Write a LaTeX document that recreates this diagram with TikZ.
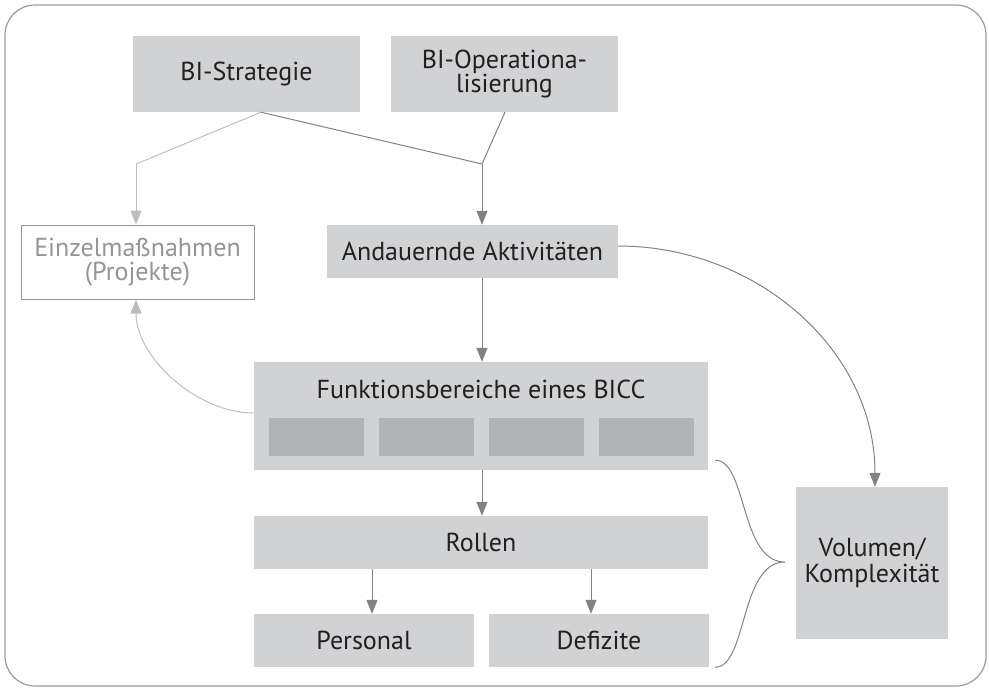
\documentclass[tikz,border=0pt]{standalone}
\usepackage{fontspec}
\setmainfont{PT Sans}
\usetikzlibrary{arrows.meta,calc}
\definecolor{boxfill}{HTML}{D1D2D4}
\definecolor{subfill}{HTML}{B1B3B6}
\definecolor{darkline}{HTML}{808285}
\definecolor{lightline}{HTML}{BCBEC0}
\definecolor{txt}{HTML}{231F20}
\definecolor{lighttxt}{HTML}{939598}
\definecolor{frame}{HTML}{9A9B9D}
\tikzset{
  box/.style={fill=boxfill, draw=none, inner sep=0pt, align=center, text=txt,
    font=\fontsize{26}{24}\selectfont},
  subbox/.style={fill=subfill, draw=none, inner sep=0pt, minimum width=95pt, minimum height=38pt},
  ghostbox/.style={fill=white, draw=lighttxt, line width=1pt, inner sep=0pt, align=center,
    text=lighttxt, font=\fontsize{26}{24}\selectfont},
  darkcon/.style={draw=darkline, line width=1pt},
  lightcon/.style={draw=lightline, line width=1pt},
  darkarrow/.style={darkcon, -{Triangle[width=11pt,length=14pt,fill=darkline]}},
  lightarrow/.style={lightcon, -{Triangle[width=11pt,length=14pt,fill=lightline]}},
  labeltext/.style={text=txt, font=\fontsize{26}{24}\selectfont, inner sep=0pt}
}
\begin{document}
\begin{tikzpicture}[x=1pt,y=-1pt]
\useasboundingbox (0,0) rectangle (989,689);
\draw[frame, line width=1.2pt, rounded corners=30pt] (5,5) rectangle (986,686);

\node[box, minimum width=227pt, minimum height=76pt] (strat) at (246.5,74) {BI-Strategie};
\node[box, minimum width=227pt, minimum height=76pt] (oper) at (504.5,74) {BI-Operationa-\\lisierung};
\node[ghostbox, minimum width=233pt, minimum height=74pt] (einzel) at (137.5,262) {Einzelmaßnahmen\\(Projekte)};
\node[box, minimum width=291pt, minimum height=53pt] (andauernd) at (472.5,251.5) {Andauernde Aktivitäten};
\node[box, minimum width=454pt, minimum height=108pt] (funk) at (481,416) {};
\node[labeltext] (funklabel) at (481,389) {Funktionsbereiche eines BICC};
\node[subbox] (fb1) at (316.5,437) {};
\node[subbox] (fb2) at (426.5,437) {};
\node[subbox] (fb3) at (536.5,437) {};
\node[subbox] (fb4) at (646.5,437) {};
\node[box, minimum width=454pt, minimum height=53pt] (rollen) at (481,542.5) {Rollen};
\node[box, minimum width=220pt, minimum height=53pt] (personal) at (364,640.5) {Personal};
\node[box, minimum width=220pt, minimum height=53pt] (defizite) at (599,640.5) {Defizite};
\node[box, minimum width=152pt, minimum height=152pt, font=\fontsize{26}{26}\selectfont] (volumen) at (872,563) {Volumen/\\Komplexität};

\coordinate (j1) at (136,164);
\coordinate (j2) at (482,164);

% from strategy / operationalisation
\draw[lightcon] ([xshift=14.5pt]strat.south) -- (j1);
\draw[lightarrow] (j1) -- (j1 |- einzel.north);
\draw[darkcon] ([xshift=14.5pt]strat.south) -- (j2);
\draw[darkcon] ([xshift=0.5pt]oper.south) -- (j2);
\draw[darkarrow] (j2) -- (j2 |- andauernd.north);

% vertical chain
\draw[darkarrow] (j2 |- andauernd.south) -- (j2 |- funk.north);
\draw[darkarrow] (j2 |- funk.south) -- (j2 |- rollen.north);
\draw[darkarrow] ([xshift=8pt]personal.north |- rollen.south) -- ([xshift=8pt]personal.north);
\draw[darkarrow] ([xshift=-8pt]defizite.north |- rollen.south) -- ([xshift=-8pt]defizite.north);

% curved connectors
\draw[darkarrow] ([yshift=5.5pt]andauernd.east) to[out=0,in=90,looseness=1.0] ([xshift=3pt]volumen.north);
\draw[lightarrow] ([yshift=3pt]funk.west) to[out=180,in=-90,looseness=0.9] ([xshift=-1.5pt]einzel.south);

% brace
\coordinate (bt) at ($(funk.south east)+(7,-10)$);
\coordinate (bb) at ($(defizite.south east)+(6,0)$);
\coordinate (btip) at ($(volumen.west)+(-11,-1)$);
\draw[darkcon] (bt) .. controls ($(bt)+(32,0)$) and ($(btip)+(-45,0)$) .. (btip)
  .. controls ($(btip)+(-45,0)$) and ($(bb)+(32,0)$) .. (bb);
\end{tikzpicture}
\end{document}
